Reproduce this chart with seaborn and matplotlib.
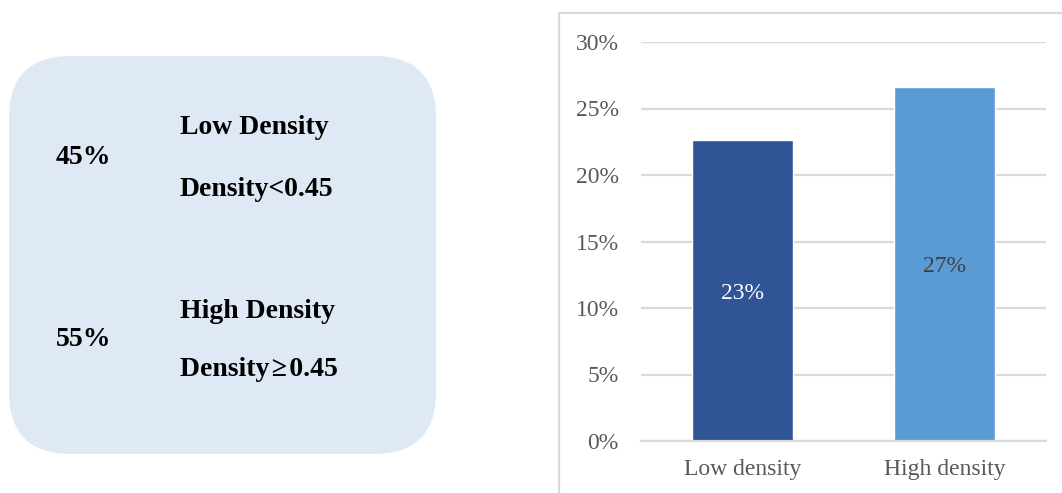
import matplotlib
matplotlib.use("Agg")
import matplotlib.pyplot as plt
from matplotlib.patches import FancyBboxPatch, Rectangle
import seaborn as sns
import pandas as pd

# Data
categories = ["Low density", "High density"]
shares = [22.6, 26.6]  # percent
bar_colors = ["#2F5597", "#5B9BD5"]
label_colors = ["white", "#404040"]
yticks = [0, 5, 10, 15, 20, 25, 30]

side_pcts = ["45%", "55%"]
side_titles = ["Low Density", "High Density"]
side_rules = ["Density<0.45", "Density\u200a\u2265\u200a0.45"]

sns.set_theme(style="white")
plt.rcParams["font.family"] = ["Liberation Serif", "DejaVu Serif"]

W, H = 1062, 493
fig = plt.figure(figsize=(W / 100, H / 100), dpi=100)

# Pixel-space overlay for the info box and chart frame
bg = fig.add_axes([0, 0, 1, 1], zorder=0)
bg.set_xlim(0, W)
bg.set_ylim(H, 0)
bg.axis("off")

box = FancyBboxPatch((9, 56), 427, 398,
                     boxstyle="round,pad=0,rounding_size=62",
                     facecolor="#DEE9F5", edgecolor="none")
bg.add_patch(box)
bg.add_patch(Rectangle((559, 13), 520, 500, facecolor="none",
                       edgecolor="#D9D9D9", linewidth=1.6))

rows_y = [(157, 127, 189), (340, 311, 370)]
for pct, title, rule, (yp, yt, yr) in zip(side_pcts, side_titles, side_rules, rows_y):
    bg.text(56, yp, pct, fontsize=20, fontweight="bold", va="center", ha="left", color="black")
    bg.text(180, yt, title, fontsize=20, fontweight="bold", va="center", ha="left", color="black")
    bg.text(180, yr, rule, fontsize=20, fontweight="bold", va="center", ha="left", color="black")

# Bar chart
ax = fig.add_axes([641 / W, 1 - 441 / H, (1046 - 641) / W, (441 - 42) / H], zorder=1)
ax.patch.set_alpha(0)
df = pd.DataFrame({"category": categories, "share": shares})
sns.barplot(data=df, x="category", y="share", hue="category",
            palette=bar_colors, width=0.5, legend=False, ax=ax, saturation=1)

ax.set_ylim(0, 30)
ax.set_yticks(yticks)
ax.set_yticklabels([f"{t}%" for t in yticks])
ax.yaxis.grid(True, color="#D9D9D9", linewidth=1.6)
ax.set_axisbelow(True)
for s in ["top", "right", "left"]:
    ax.spines[s].set_visible(False)
ax.spines["bottom"].set_color("#D9D9D9")
ax.spines["bottom"].set_linewidth(1.6)
ax.tick_params(axis="both", length=0, labelsize=17, labelcolor="#595959")
ax.tick_params(axis="y", pad=16)
ax.tick_params(axis="x", pad=13)
ax.set_xlabel("")
ax.set_ylabel("")

for bar, val, col in zip(ax.patches, shares, label_colors):
    ax.text(bar.get_x() + bar.get_width() / 2, val / 2, f"{round(val)}%",
            ha="center", va="center_baseline", fontsize=17, color=col)

fig.savefig("out.png", dpi=100)
